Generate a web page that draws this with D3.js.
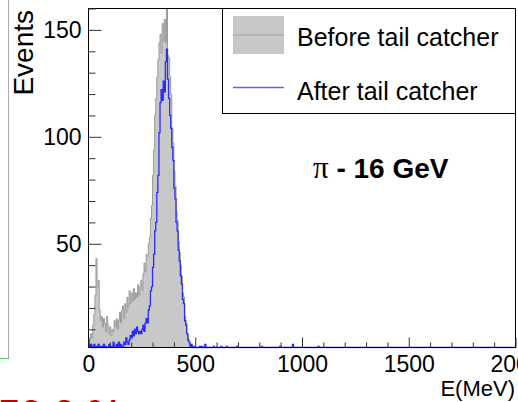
<!DOCTYPE html>
<html>
<head>
<meta charset="utf-8">
<script src="https://cdn.jsdelivr.net/npm/d3@7"></script>
<style>
  body { margin: 0; background: #fff; }
  text { font-family: "Liberation Sans", Arial, sans-serif; }
</style>
</head>
<body>
<div id="chart"></div>
<script>
// bin width 5 MeV, bins start at 0, 5, 10 ... 515
const binWidth = 5;
const before = [
  3, 5, 8, 6, 12, 17, 26, 43, 30, 33, 19, 14,
  16, 11, 15, 13, 9, 16, 12, 8, 11, 7, 10, 9,
  14, 11, 15, 10, 14, 18, 13, 19, 21, 15, 22, 18,
  25, 20, 28, 22, 27, 23, 29, 24, 27, 25, 31, 26,
  30, 33, 28, 36, 41, 37, 45, 44, 50, 53, 62, 68,
  82, 94, 110, 118, 128, 136, 144, 148, 139, 153, 145, 155,
  144, 165, 138, 137, 128, 120, 104, 97, 84, 77, 65, 61,
  51, 46, 40, 35, 27, 25, 16, 13, 8, 7, 4, 3,
  2, 1, 1, 0, 1, 0, 0, 0
];
const after = [
  3, 2, 3, 1, 2, 3, 1, 2, 1, 3, 2, 1,
  2, 1, 3, 1, 2, 1, 1, 3, 2, 1, 2, 4,
  2, 1, 3, 2, 4, 2, 3, 1, 2, 4, 3, 6,
  4, 3, 5, 7, 6, 9, 7, 10, 8, 11, 9, 8,
  9, 8, 10, 12, 9, 13, 15, 13, 19, 21, 28, 30,
  39, 45, 56, 60, 74, 82, 102, 116, 122, 117, 126, 121,
  135, 141, 127, 118, 110, 104, 95, 89, 76, 71, 60, 56,
  47, 42, 35, 31, 24, 22, 14, 12, 8, 5, 4, 2,
  3, 1, 2, 1, 1, 0, 1, 0
];
// isolated entries of the blue histogram above 515 MeV: [E, count]
const afterTail = [
  [520, 2], [530, 2], [545, 3], [585, 2], [620, 2], [645, 2],
  [695, 2], [810, 2], [895, 2], [955, 3], [1075, 2]
];
const xMajor = [0, 500, 1000, 1500, 2000];
const yMajor = [50, 100, 150];

const W = 518, H = 402;
const frame = { left: 88.5, right: 515.5, top: 8.5, bottom: 347.5 };

const x = d3.scaleLinear().domain([0, 2000]).range([frame.left, frame.right]);
const y = d3.scaleLinear().domain([1.5, 160]).range([frame.bottom, frame.top]).clamp(true);

const svg = d3.select("#chart").append("svg")
  .attr("width", W).attr("height", H);
svg.append("rect").attr("width", W).attr("height", H).attr("fill", "#fff");

// slide leftovers on the left edge
svg.append("line").attr("x1", 8.5).attr("x2", 8.5).attr("y1", 0).attr("y2", 358)
  .attr("stroke", "#aaa");
svg.append("line").attr("x1", 0).attr("x2", 9).attr("y1", 358.5).attr("y2", 358.5)
  .attr("stroke", "#5c5");
svg.append("text").attr("x", -2).attr("y", 428)
  .attr("fill", "#c00000").attr("font-size", 40).attr("font-weight", "bold")
  .text("50.0 %");

// build full step series 0..2000
function toPoints(arr, tail) {
  const nBins = 2000 / binWidth;
  const counts = new Array(nBins).fill(0);
  arr.forEach((c, i) => (counts[i] = c));
  (tail || []).forEach(([e, c]) => (counts[Math.floor(e / binWidth)] = c));
  const pts = counts.map((c, i) => ({ e: i * binWidth, c: c }));
  pts.push({ e: 2000, c: counts[nBins - 1] });
  return pts;
}
const beforePts = toPoints(before);
const afterPts = toPoints(after, afterTail);

svg.append("clipPath").attr("id", "clip").append("rect")
  .attr("x", frame.left).attr("y", frame.top - 0.5)
  .attr("width", frame.right - frame.left).attr("height", frame.bottom - frame.top + 1.5);

const plot = svg.append("g").attr("clip-path", "url(#clip)");

const area = d3.area().curve(d3.curveStepAfter)
  .x((d) => x(d.e)).y0(y(0)).y1((d) => y(d.c));
const line = d3.line().curve(d3.curveStepAfter)
  .x((d) => x(d.e)).y((d) => y(d.c));

plot.append("path").datum(beforePts).attr("d", area).attr("fill", "#c8c8c8");
plot.append("path").datum(beforePts).attr("d", line)
  .attr("fill", "none").attr("stroke", "#9a9a9a").attr("stroke-width", 1);

// frame
svg.append("rect")
  .attr("x", frame.left).attr("y", frame.top)
  .attr("width", frame.right - frame.left).attr("height", frame.bottom - frame.top)
  .attr("fill", "none").attr("stroke", "#000");

plot.append("path").datum(afterPts).attr("d", line)
  .attr("fill", "none").attr("stroke", "#2b2bff").attr("stroke-width", 1.3);

// axes
const xMinor = d3.range(100, 2000, 100).filter((v) => v % 500 !== 0);
const yMinor = d3.range(10, 161, 10).filter((v) => v % 50 !== 0);

svg.append("g").attr("transform", `translate(0,${frame.bottom})`)
  .call(d3.axisBottom(x).tickValues(xMajor).tickSize(-10).tickPadding(8).tickFormat(d3.format("d")));
svg.append("g").attr("transform", `translate(0,${frame.bottom})`)
  .call(d3.axisBottom(x).tickValues(xMinor).tickSize(-5).tickFormat(""));
svg.append("g").attr("transform", `translate(${frame.left},0)`)
  .call(d3.axisLeft(y).tickValues(yMajor).tickSize(-13).tickPadding(7));
svg.append("g").attr("transform", `translate(${frame.left},0)`)
  .call(d3.axisLeft(y).tickValues(yMinor).tickSize(-7).tickFormat(""));

svg.selectAll(".domain").remove();
svg.selectAll(".tick line").attr("stroke", "#333");
svg.selectAll(".tick text").attr("font-size", 23).attr("fill", "#000")
  .attr("font-family", "Liberation Sans, Arial, sans-serif");

// axis titles
svg.append("text").attr("transform", "translate(33,10) rotate(-90)")
  .attr("text-anchor", "end").attr("font-size", 28).text("Events");
svg.append("text").attr("x", 515).attr("y", 396)
  .attr("text-anchor", "end").attr("font-size", 22).text("E(MeV)");

// legend
const leg = svg.append("g");
leg.append("rect").attr("x", 222.5).attr("y", 8.5).attr("width", 293).attr("height", 105)
  .attr("fill", "#fff").attr("stroke", "#000");
leg.append("rect").attr("x", 233).attr("y", 16).attr("width", 51).attr("height", 38)
  .attr("fill", "#c8c8c8");
leg.append("line").attr("x1", 233).attr("x2", 284).attr("y1", 35).attr("y2", 35)
  .attr("stroke", "#a0a0a0");
leg.append("line").attr("x1", 233).attr("x2", 284).attr("y1", 87.5).attr("y2", 87.5)
  .attr("stroke", "#6262ff").attr("stroke-width", 1.5);
leg.append("text").attr("x", 297).attr("y", 46).attr("font-size", 25).text("Before tail catcher");
leg.append("text").attr("x", 297).attr("y", 100).attr("font-size", 25).text("After tail catcher");

// annotation
const ann = svg.append("text").attr("x", 313).attr("y", 178);
ann.append("tspan").attr("font-family", "Liberation Serif, serif").attr("font-size", 31).text("\u03c0");
ann.append("tspan").attr("font-weight", "bold").attr("font-size", 28).text(" - 16 GeV");
</script>
</body>
</html>
